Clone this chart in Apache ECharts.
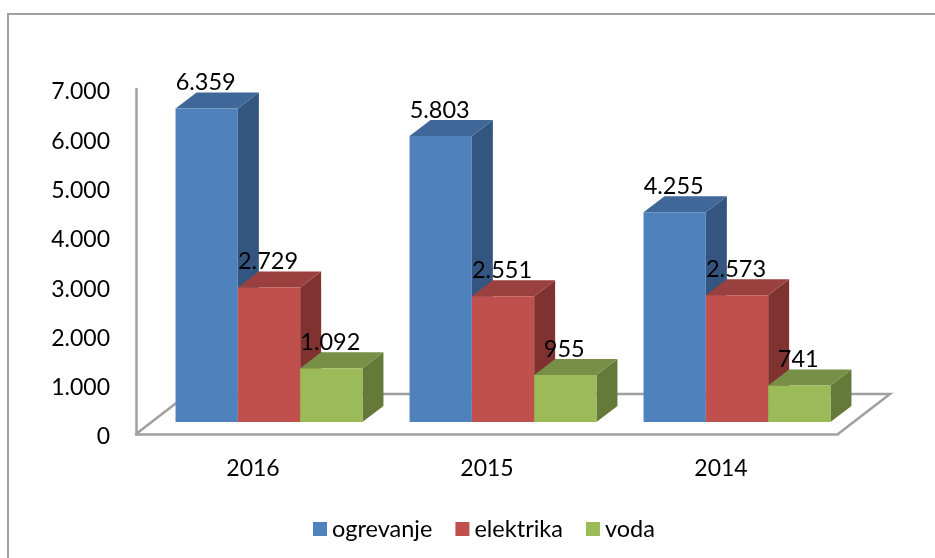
<!DOCTYPE html>
<html><head><meta charset="utf-8">
<style>html,body{margin:0;padding:0;background:#fff}#c{width:935px;height:558px}</style>
<script src="https://cdn.jsdelivr.net/npm/echarts@6/dist/echarts.min.js"></script>
</head><body><div id="c"></div>
<script>
const categories = ['2016', '2015', '2014'];
const ogrevanje = [6359, 5803, 4255];
const elektrika = [2729, 2551, 2573];
const voda = [1092, 955, 741];
const seriesNames = ['ogrevanje', 'elektrika', 'voda'];
const yTicks = {min: 0, max: 7000, interval: 1000};

const DEPTH_X = 21, DEPTH_Y = 16, LABEL_UP = 26, BAR_W = 62.3;
const FONT = 'Lato, Carlito, sans-serif';
const palette = [
  {front: '#4F81BD', side: '#33557F', top: '#3F6797'},
  {front: '#C0504D', side: '#7F3230', top: '#9A403E'},
  {front: '#9BBB59', side: '#657A38', top: '#788F47'}
];
const fmt = v => v >= 1000 ? Math.floor(v / 1000) + '.' + String(v % 1000).padStart(3, '0') : String(v);

function bar3d(seriesIndex) {
  return function (params, api) {
    const cat = api.value(0), val = api.value(1);
    const base = api.coord([cat, 0]), top = api.coord([cat, val]);
    const x0 = base[0] - BAR_W * 1.5 + BAR_W * seriesIndex, x1 = x0 + BAR_W;
    const yb = base[1], yt = top[1];
    const c = palette[seriesIndex];
    return {type: 'group', children: [
      {type: 'polygon', shape: {points: [[x1, yb], [x1 + DEPTH_X, yb - DEPTH_Y], [x1 + DEPTH_X, yt - DEPTH_Y], [x1, yt]]}, style: {fill: c.side}},
      {type: 'polygon', shape: {points: [[x0, yt], [x1, yt], [x1 + DEPTH_X, yt - DEPTH_Y], [x0 + DEPTH_X, yt - DEPTH_Y]]}, style: {fill: c.top}},
      {type: 'rect', shape: {x: x0, y: yt, width: BAR_W, height: yb - yt}, style: {fill: c.front}},
      {type: 'text', z2: 50, style: {x: (x0 + x1) / 2 - 1, y: yt - LABEL_UP, text: fmt(val), fill: '#000', font: '23.5px ' + FONT, textAlign: 'center', textVerticalAlign: 'middle'}}
    ]};
  };
}

function floor(params, api) {
  const r = params.coordSys;
  const x0 = r.x, x1 = r.x + r.width, y = r.y + r.height;
  const dx = 52, dy = 40;
  const st = {stroke: '#A0A0A0', lineWidth: 2.5, fill: null};
  return {type: 'polyline', shape: {points: [[x0, y], [x0 + dx, y - dy], [x1 + dx, y - dy], [x1, y]]}, style: st};
}

const chart = echarts.init(document.getElementById('c'), null, {renderer: 'canvas'});
const rows = arr => arr.map((v, i) => [i, v]);
const all = [ogrevanje, elektrika, voda];
chart.setOption({
  animation: false,
  backgroundColor: '#fff',
  graphic: [{type: 'rect', silent: true, shape: {x: 8, y: 14, width: 1000, height: 600}, style: {fill: 'none', stroke: '#A0A0A0', lineWidth: 2}}],
  grid: [
    {left: 136, width: 702, top: 89, height: 345},
    {left: 152, width: 702, top: 77, height: 345},
    {left: 136, width: 702, top: 92, height: 345}
  ],
  legend: {
    left: 308, top: 512, itemWidth: 14, itemHeight: 14, itemGap: 23,
    icon: 'rect',
    textStyle: {fontFamily: FONT, fontSize: 23.5, color: '#000'},
    data: seriesNames
  },
  xAxis: [
    {type: 'category', gridIndex: 0, data: categories,
     axisLine: {lineStyle: {color: '#A0A0A0', width: 2.5}}, axisTick: {show: false},
     axisLabel: {fontFamily: FONT, fontSize: 23, color: '#000', margin: 23}},
    {type: 'category', gridIndex: 1, data: categories, show: false},
    {type: 'category', gridIndex: 2, data: categories, show: false}
  ],
  yAxis: [
    {type: 'value', gridIndex: 0, min: yTicks.min, max: yTicks.max, interval: yTicks.interval,
     axisLine: {show: true, lineStyle: {color: '#A0A0A0', width: 2.5}}, axisTick: {show: false}, splitLine: {show: false},
     axisLabel: {show: false}},
    {type: 'value', gridIndex: 1, min: yTicks.min, max: yTicks.max, interval: yTicks.interval, show: false, splitLine: {show: false}},
    {type: 'value', gridIndex: 2, min: yTicks.min, max: yTicks.max, interval: yTicks.interval,
     axisLine: {show: false}, axisTick: {show: false}, splitLine: {show: false},
     axisLabel: {fontFamily: FONT, fontSize: 23, color: '#000', margin: 26, formatter: fmt}}
  ],
  series: [
    {type: 'custom', name: 'floor', xAxisIndex: 0, yAxisIndex: 0, coordinateSystem: 'cartesian2d', data: [[0, 0]], renderItem: floor, silent: true, z: 1},
    ...all.map((arr, i) => ({
      type: 'custom', name: seriesNames[i], xAxisIndex: 1, yAxisIndex: 1, coordinateSystem: 'cartesian2d',
      data: rows(arr), renderItem: bar3d(i), itemStyle: {color: palette[i].front},
      encode: {x: 0, y: 1}, z: 2 + i
    }))
  ]
});
</script></body></html>
